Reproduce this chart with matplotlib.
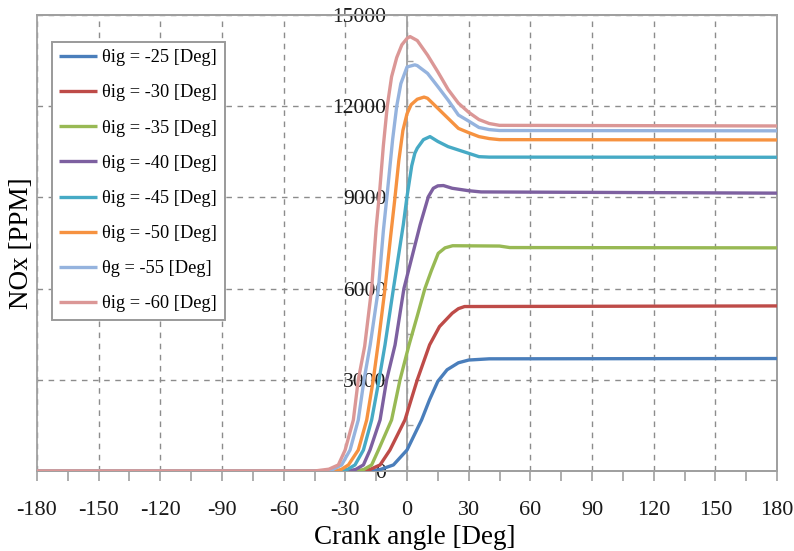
import matplotlib
matplotlib.use('Agg')
import matplotlib.pyplot as plt
from matplotlib.ticker import MultipleLocator, FixedLocator
from matplotlib.patches import Rectangle

plt.rcParams['font.family'] = ['Liberation Serif', 'DejaVu Serif']

# ---- data ----
labels = ['θig = -25 [Deg]', 'θig = -30 [Deg]', 'θig = -35 [Deg]', 'θig = -40 [Deg]',
          'θig = -45 [Deg]', 'θig = -50 [Deg]', 'θg = -55 [Deg]', 'θig = -60 [Deg]']
colors = ['#4A7EBB', '#BE4B48', '#98B954', '#7D60A0', '#46AAC5', '#F69240', '#95B3DE', '#DB9796']

ang_m25 = [-180, -18, -13, -6.6, 0, 7.1, 11, 15, 19.5, 25, 30, 40, 180]
nox_m25 = [0, 0, 50, 200, 690, 1680, 2350, 2950, 3330, 3560, 3650, 3690, 3700]

ang_m30 = [-180, -22, -18, -13.1, -8.3, -1, 5, 11, 15.8, 22, 25, 28, 180]
nox_m30 = [0, 0, 50, 200, 690, 1680, 3000, 4150, 4750, 5190, 5340, 5410, 5430]

ang_m35 = [-180, -25, -21, -17.2, -13.9, -7.5, -3.4, 1, 5, 8.7, 11.8, 15.2, 18.5, 22.2, 45, 50, 180]
nox_m35 = [0, 0, 50, 200, 690, 1680, 3000, 4150, 5100, 6000, 6580, 7160, 7340, 7410, 7400, 7350, 7340]

ang_m40 = [-180, -29, -25, -21.2, -18, -13.1, -9.9, -5.8, -1.5, 6.4, 10.4, 12.8, 15, 17.7, 22, 30, 36, 180]
nox_m40 = [0, 0, 50, 200, 690, 1680, 3000, 4150, 6000, 8100, 9025, 9300, 9380, 9390, 9300, 9220, 9180, 9140]

ang_m45 = [-180, -32, -29, -25.3, -21.2, -17.2, -13.6, -10.7, -6.6, -1.8, 0, 2.3, 3.8, 5, 8, 11.2,
           15, 20, 25, 30, 35, 40, 180]
nox_m45 = [0, 0, 50, 200, 690, 1680, 3000, 4150, 6000, 8100, 9025, 10040, 10450, 10620, 10900, 11000,
           10840, 10670, 10560, 10450, 10340, 10325, 10320]

ang_m50 = [-180, -35, -32, -28.5, -23.7, -19.6, -16.4, -14.1, -10.7, -8, -6, -4, -2, 0, 2, 5, 8.3,
           10, 15, 20, 25, 30, 35, 40, 45, 180]
nox_m50 = [0, 0, 50, 200, 690, 1680, 3000, 4150, 6000, 7700, 8900, 10200, 11200, 11750, 12050, 12230, 12300,
           12260, 11930, 11600, 11270, 11130, 11000, 10935, 10900, 10890]

ang_m55 = [-180, -40, -36, -31.8, -27.7, -23.7, -20.9, -17.9, -13.9, -11.5, -9.5, -7, -5, -3, 0, 3.8, 5,
           10, 15, 20, 25, 30, 35, 40, 45, 180]
nox_m55 = [0, 0, 50, 200, 690, 1680, 3000, 4150, 6000, 7900, 9200, 10900, 12000, 12740, 13290, 13360, 13335,
           13080, 12645, 12200, 11710, 11510, 11300, 11230, 11200, 11190]

ang_m60 = [-180, -45, -38, -33.4, -30.1, -26.1, -23.7, -20.6, -17.2, -15, -13.3, -11.5, -9.6, -7.5, -5, -2.5,
           0, 1.5, 5, 10, 15, 20, 25, 30, 35, 40, 45, 180]
nox_m60 = [0, 0, 60, 200, 690, 1680, 3000, 4100, 6000, 8000, 9200, 10700, 12000, 12970, 13600, 14020,
           14230, 14290, 14160, 13680, 13130, 12550, 12100, 11800, 11560, 11430, 11370, 11350]

series = [(ang_m25, nox_m25), (ang_m30, nox_m30), (ang_m35, nox_m35), (ang_m40, nox_m40),
          (ang_m45, nox_m45), (ang_m50, nox_m50), (ang_m55, nox_m55), (ang_m60, nox_m60)]

x_ticks = [-180, -150, -120, -90, -60, -30, 0, 30, 60, 90, 120, 150, 180]
y_ticks = [0, 3000, 6000, 9000, 12000, 15000]

# ---- figure ----
W, H = 794, 551
fig = plt.figure(figsize=(W / 100, H / 100), dpi=100)
L, R, T, B = 37, 777, 15, 471
ax = fig.add_axes([L / W, 1 - B / H, (R - L) / W, (B - T) / H])

for (a, v), c, lab in zip(series, colors, labels):
    ax.plot(a, v, color=c, lw=2.4, label=lab, solid_capstyle='butt',
            solid_joinstyle='round', zorder=3)

ax.set_xlim(-180, 180)
ax.set_ylim(0, 15000)
ax.xaxis.set_major_locator(FixedLocator(x_ticks))
ax.xaxis.set_minor_locator(MultipleLocator(15))
ax.yaxis.set_major_locator(FixedLocator(y_ticks))
ax.yaxis.set_minor_locator(MultipleLocator(1500))

grid_col = '#8c8c8c'
ax.grid(True, which='major', color=grid_col, lw=1.0, linestyle=(0, (4, 4)), zorder=1)

spine_col = '#a0a0a0'
for s in ['top', 'right', 'bottom']:
    ax.spines[s].set_color(spine_col)
    ax.spines[s].set_linewidth(1.3)
ax.spines['left'].set_position(('data', 0))
ax.spines['left'].set_color(spine_col)
ax.spines['left'].set_linewidth(1.3)
ax.add_patch(Rectangle((0, 0), 1, 1, transform=ax.transAxes, fill=False,
                       edgecolor=spine_col, lw=1.3, zorder=2, clip_on=False))

ax.tick_params(axis='x', which='both', direction='out', length=7, width=1.2,
               color=spine_col, labelsize=16, pad=14.5, labelcolor='#1a1a1a')
ax.tick_params(axis='y', which='major', direction='in', length=0, labelsize=15.5,
               pad=15, labelcolor='#1a1a1a')
ax.tick_params(axis='y', which='minor', direction='in', length=4, width=1.0, color=spine_col)
ax.set_xticklabels([str(v) for v in x_ticks])
ax.set_yticklabels([str(v) for v in y_ticks])

ax.set_xlabel('Crank angle [Deg]', fontsize=19.5)
ax.xaxis.set_label_coords((415 - L) / (R - L), (B - 537) / (B - T))
ax.xaxis.label.set_va('center')
ax.set_ylabel('NOx [PPM]', fontsize=19.5)
ax.yaxis.set_label_coords((21.5 - L) / (R - L), 0.5)
ax.yaxis.label.set_va('center')

leg = ax.legend(loc='upper left', bbox_to_anchor=(52 / W, 1 - 42 / H),
                bbox_transform=fig.transFigure, borderaxespad=0, fontsize=13.2,
                frameon=True, fancybox=False, shadow=False, handlelength=2.05,
                handletextpad=0.3, labelspacing=0.99, borderpad=0.4)
leg.get_frame().set_edgecolor('#9a9a9a')
leg.get_frame().set_linewidth(1.4)
leg.get_frame().set_facecolor('white')
leg.get_frame().set_alpha(1)
for line in leg.get_lines():
    line.set_linewidth(2.4)

fig.savefig('out.png', dpi=100)
